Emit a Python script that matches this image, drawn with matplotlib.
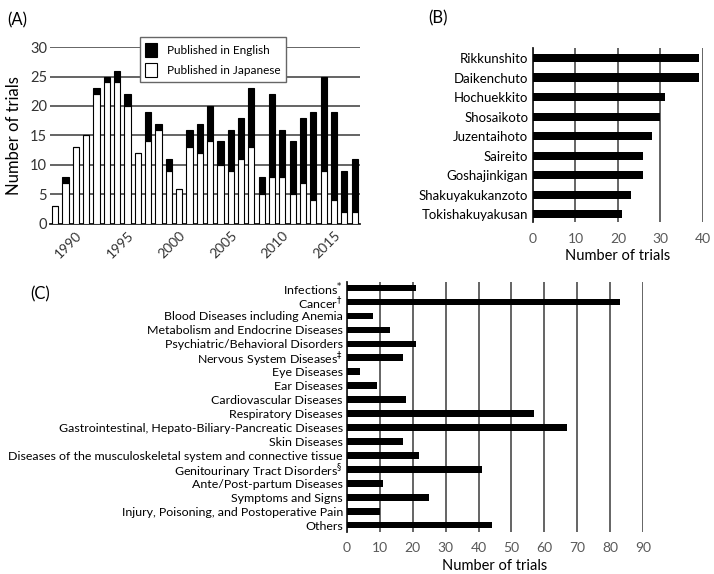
import numpy as np
import matplotlib
matplotlib.use("Agg")
import matplotlib.pyplot as plt

plt.rcParams['font.family'] = ['Lato', 'DejaVu Sans']

# (A) trials per year
years = list(range(1988, 2018))
total = [3, 8, 13, 15, 23, 25, 26, 22, 12, 19, 17, 11, 6, 16, 17, 20, 14, 16, 18, 23,
         8, 22, 16, 14, 18, 19, 25, 19, 9, 11]
japanese = [3, 7, 13, 15, 22, 24, 24, 20, 12, 14, 16, 9, 6, 13, 12, 14, 10, 9, 11, 13,
            5, 8, 8, 5, 7, 4, 9, 4, 2, 2]
english = [t - j for t, j in zip(total, japanese)]
year_ticks = [1990, 1995, 2000, 2005, 2010, 2015]

# (B) formulations
formulas = ["Rikkunshito", "Daikenchuto", "Hochuekkito", "Shosaikoto", "Juzentaihoto",
            "Saireito", "Goshajinkigan", "Shakuyakukanzoto", "Tokishakuyakusan"]
formula_counts = [39, 39, 31, 30, 28, 26, 26, 23, 21]

# (C) disease categories
diseases = [r"Infections$^{*}$", r"Cancer$^{\dagger}$", "Blood Diseases including Anemia",
            "Metabolism and Endocrine Diseases", "Psychiatric/Behavioral Disorders",
            r"Nervous System Diseases$^{\ddagger}$", "Eye Diseases", "Ear Diseases",
            "Cardiovascular Diseases", "Respiratory Diseases",
            "Gastrointestinal, Hepato-Biliary-Pancreatic Diseases", "Skin Diseases",
            "Diseases of the musculoskeletal system and connective tissue",
            r"Genitourinary Tract Disorders$^{\S}$", "Ante/Post-partum Diseases",
            "Symptoms and Signs", "Injury, Poisoning, and Postoperative Pain", "Others"]
disease_counts = [21, 83, 8, 13, 21, 17, 4, 9, 18, 57, 67, 17, 22, 41, 11, 25, 10, 44]

grid_c = '#3a3a3a'
tick_c = '#595959'

fig = plt.figure(figsize=(7.14, 5.74), dpi=100)

# ---- panel A
axA = fig.add_axes([0.070, 0.610, 0.434, 0.308])
x = np.arange(len(years))
axA.bar(x, japanese, width=0.6, color='white', edgecolor='black', linewidth=0.8,
        label='Published in Japanese', zorder=3)
axA.bar(x, english, width=0.6, bottom=japanese, color='black', edgecolor='black',
        linewidth=0.8, label='Published in English', zorder=3)
axA.set_xlim(-0.5, len(years) - 0.5)
axA.set_ylim(0, 30)
axA.set_yticks(range(0, 31, 5))
axA.yaxis.grid(True, color=grid_c, linewidth=1.1, zorder=0)
axA.set_xticks([years.index(y) for y in year_ticks])
axA.set_xticklabels(year_ticks, rotation=45, ha='right', rotation_mode='anchor',
                    fontsize=10, color='#333333')
axA.tick_params(axis='x', length=0, pad=4)
axA.tick_params(axis='y', length=0, pad=2, labelsize=10.5, labelcolor='#333333')
for s in ['top', 'right', 'left']:
    axA.spines[s].set_visible(False)
axA.spines['bottom'].set_color('#222222')
axA.spines['bottom'].set_linewidth(1.3)
axA.set_ylabel('Number of trials', fontsize=12, labelpad=6)
h, l = axA.get_legend_handles_labels()
leg = axA.legend(h[::-1], l[::-1], loc='upper left', bbox_to_anchor=(0.188, 0.945),
                 bbox_transform=fig.transFigure, fontsize=8.5, frameon=True,
                 fancybox=False, framealpha=1, edgecolor='#666666',
                 handlelength=1.0, handleheight=1.5, borderpad=0.45, labelspacing=0.45)
leg.set_zorder(5)

# ---- panel B
axB = fig.add_axes([0.7465, 0.613, 0.238, 0.303])
yb = np.arange(len(formulas))
axB.barh(yb, formula_counts, height=0.42, color='black', zorder=3)
axB.set_xlim(0, 40)
axB.set_ylim(len(formulas) - 0.6, -0.5)
axB.set_xticks(range(0, 41, 10))
axB.xaxis.grid(True, color=grid_c, linewidth=1.1, zorder=0)
axB.set_yticks(yb)
axB.set_yticklabels(formulas, fontsize=9.5)
axB.tick_params(axis='both', length=0)
axB.tick_params(axis='x', labelsize=10, labelcolor=tick_c, pad=8)
for s in ['top', 'right', 'bottom']:
    axB.spines[s].set_visible(False)
axB.spines['left'].set_color('#222222')
axB.spines['left'].set_linewidth(1.3)
axB.set_xlabel('Number of trials', fontsize=10.5, labelpad=3)

# ---- panel C
axC = fig.add_axes([0.486, 0.073, 0.4146, 0.436])
yc = np.arange(len(diseases))
axC.barh(yc, disease_counts, height=0.48, color='black', zorder=3)
axC.set_xlim(0, 90)
axC.set_ylim(len(diseases) - 0.5, -0.45)
axC.set_xticks(range(0, 91, 10))
axC.xaxis.grid(True, color=grid_c, linewidth=1.1, zorder=0)
axC.set_yticks(yc)
axC.set_yticklabels(diseases, fontsize=8.9)
axC.tick_params(axis='both', length=0)
axC.tick_params(axis='y', pad=3)
axC.tick_params(axis='x', labelsize=10, labelcolor=tick_c, pad=7)
for s in ['top', 'right', 'bottom']:
    axC.spines[s].set_visible(False)
axC.spines['left'].set_color('#222222')
axC.spines['left'].set_linewidth(1.3)
axC.set_xlabel('Number of trials', fontsize=10.5, labelpad=4)

fig.text(0.010, 0.965, '(A)', fontsize=12, va='center')
fig.text(0.600, 0.968, '(B)', fontsize=12, va='center')
fig.text(0.042, 0.488, '(C)', fontsize=12, va='center')

fig.savefig('out.png', dpi=100)
